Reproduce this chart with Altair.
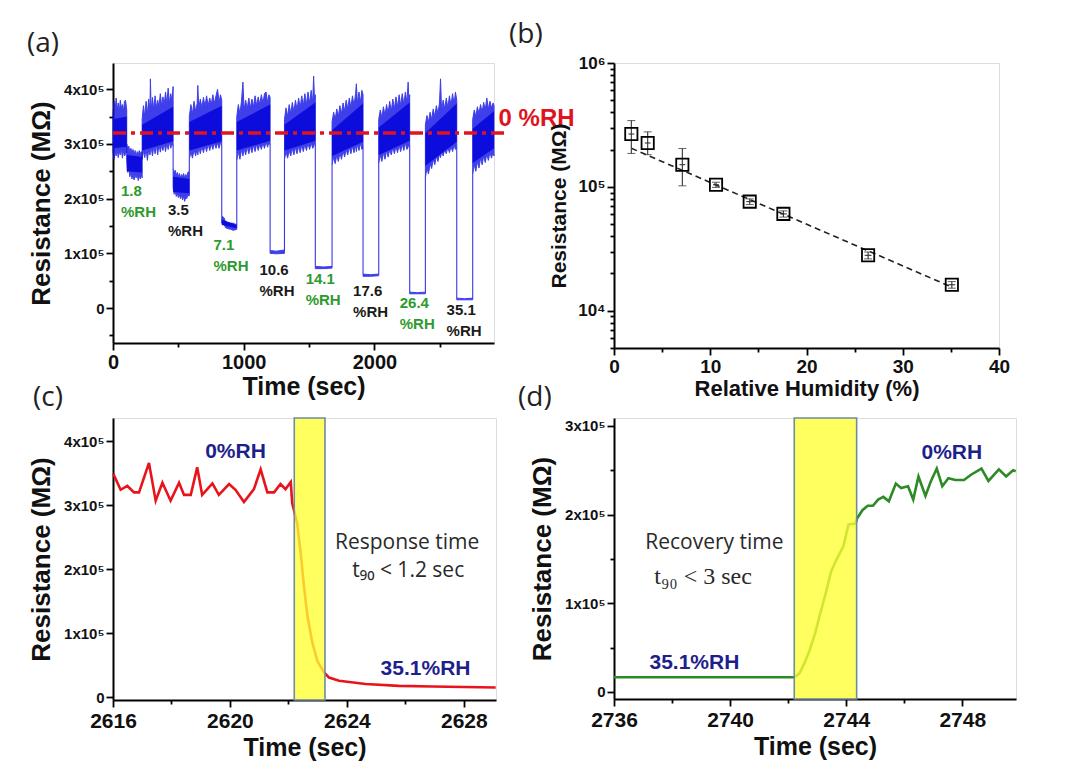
import altair as alt
import pandas as pd

SANS = "Liberation Sans"
BLUE = "#1414e6"
NAVY = "#1f1f8c"
GREEN_TXT = "#2e9a2e"

# ---------------- panel (a): resistance vs time (values in 1e5 MOhm) ----------------
# noisy trace, outer envelope: (time s, lower envelope, upper envelope)
A_SEGMENTS = [
    ([0, 8, 16, 24, 32, 40, 48, 56, 64, 72, 80, 88, 96, 105],
     [2.85, 2.72, 2.88, 2.78, 2.90, 2.75, 2.86, 2.80, 2.92, 2.74, 2.88, 2.78, 2.82, 2.85],
     [3.55, 3.78, 3.60, 3.84, 3.62, 3.75, 3.58, 3.80, 3.65, 3.72, 3.60, 3.78, 3.80, 3.62]),
    ([105, 113, 121, 129, 137, 145, 153, 161, 169, 177, 185, 193, 201, 209, 217, 223],
     [2.70, 2.48, 2.56, 2.40, 2.50, 2.36, 2.46, 2.34, 2.44, 2.38, 2.46, 2.33, 2.42, 2.36, 2.44, 2.38],
     [3.00, 2.90, 2.96, 2.84, 2.92, 2.82, 2.90, 2.80, 2.88, 2.78, 2.86, 2.80, 2.88, 2.82, 2.86, 2.85]),
    ([223, 233, 243, 253, 263, 273, 283, 286, 292, 302, 312, 322, 332, 342, 352, 362, 372, 382, 392, 402,
      412, 422, 432, 442, 452, 460],
     [2.72, 2.88, 2.75, 2.92, 2.70, 2.90, 2.80, 2.85, 2.95, 2.78, 2.96, 2.82, 2.98, 2.80, 3.00, 2.85, 2.98,
      2.88, 3.02, 2.86, 3.02, 2.90, 3.04, 2.92, 3.04, 2.95],
     [3.45, 3.70, 3.50, 3.78, 3.55, 3.82, 3.60, 4.19, 3.62, 3.85, 3.62, 3.88, 3.66, 3.80, 3.68, 3.92, 3.70,
      3.86, 3.72, 3.95, 3.74, 4.02, 3.75, 3.92, 3.78, 4.05]),
    ([460, 468, 476, 484, 492, 500, 508, 516, 524, 532, 540, 548, 556, 564, 572, 584],
     [2.20, 2.08, 2.14, 2.04, 2.10, 2.02, 2.08, 2.00, 2.06, 1.98, 2.04, 1.95, 2.02, 2.00, 2.06, 2.05],
     [2.55, 2.46, 2.52, 2.42, 2.48, 2.40, 2.46, 2.38, 2.44, 2.40, 2.46, 2.38, 2.44, 2.40, 2.48, 2.50]),
    ([584, 596, 608, 620, 632, 644, 649, 656, 668, 680, 692, 704, 716, 728, 740, 752, 764, 776, 788, 800,
      812, 822, 832],
     [2.72, 2.86, 2.74, 2.90, 2.78, 2.92, 2.80, 2.95, 2.82, 2.96, 2.84, 2.98, 2.86, 3.00, 2.88, 3.00, 2.90,
      3.02, 2.92, 3.02, 2.92, 3.04, 2.95],
     [3.50, 3.72, 3.55, 3.78, 3.60, 3.74, 4.07, 3.65, 3.82, 3.66, 3.85, 3.68, 3.88, 3.70, 3.84, 3.72, 3.90,
      3.74, 3.88, 4.00, 3.76, 3.90, 3.80]),
    ([832, 850, 860, 880, 900, 920, 947],
     [1.55, 1.55, 1.47, 1.45, 1.44, 1.42, 1.44],
     [1.68, 1.65, 1.58, 1.56, 1.55, 1.55, 1.52]),
    ([947, 959, 971, 983, 994, 1003, 1015, 1027, 1039, 1051, 1063, 1075, 1087, 1099, 1111, 1123, 1135, 1147,
      1159, 1171, 1183, 1193, 1202],
     [2.70, 2.86, 2.72, 2.90, 2.78, 2.92, 2.80, 2.95, 2.82, 2.96, 2.84, 2.98, 2.86, 3.00, 2.88, 3.00, 2.90,
      3.02, 2.92, 3.04, 2.94, 3.04, 2.98],
     [3.50, 3.72, 3.55, 3.78, 4.13, 3.62, 3.80, 3.64, 3.84, 3.66, 3.82, 3.68, 3.88, 3.70, 3.86, 3.72, 3.90,
      3.74, 3.92, 3.95, 3.76, 3.90, 3.85]),
    ([1202, 1250, 1312], [1.00, 0.99, 1.00], [1.05, 1.04, 1.06]),
    ([1312, 1324, 1336, 1348, 1360, 1372, 1384, 1396, 1408, 1420, 1432, 1444, 1456, 1468, 1480, 1492, 1504,
      1516, 1528, 1535, 1542, 1548],
     [2.72, 2.86, 2.74, 2.88, 2.78, 2.92, 2.80, 2.94, 2.82, 2.96, 2.84, 2.98, 2.86, 3.00, 2.88, 3.02, 2.90,
      3.02, 2.92, 2.95, 3.04, 2.95],
     [3.45, 3.66, 3.50, 3.72, 3.55, 3.76, 3.58, 3.80, 3.62, 3.84, 3.66, 3.88, 3.70, 3.92, 3.72, 3.95, 3.74,
      3.98, 3.76, 4.24, 3.80, 3.90]),
    ([1548, 1610, 1676], [0.72, 0.72, 0.73], [0.76, 0.75, 0.76]),
    ([1676, 1688, 1700, 1712, 1724, 1736, 1748, 1760, 1772, 1784, 1796, 1808, 1820, 1832, 1844, 1856, 1862,
      1870, 1882, 1894, 1904, 1913],
     [2.62, 2.76, 2.64, 2.80, 2.68, 2.84, 2.72, 2.88, 2.76, 2.90, 2.80, 2.94, 2.82, 2.96, 2.84, 2.98, 2.86,
      3.00, 2.88, 3.02, 2.90, 2.95],
     [3.40, 3.58, 3.45, 3.64, 3.50, 3.70, 3.55, 3.75, 3.60, 3.80, 3.64, 3.84, 3.66, 3.88, 3.70, 3.92, 4.10,
      3.74, 3.95, 3.76, 3.98, 3.90]),
    ([1913, 1970, 2033], [0.58, 0.58, 0.59], [0.62, 0.61, 0.62]),
    ([2033, 2045, 2057, 2069, 2081, 2093, 2105, 2117, 2129, 2141, 2153, 2165, 2177, 2189, 2201, 2213, 2225,
      2237, 2249, 2258, 2264, 2270],
     [2.65, 2.80, 2.68, 2.84, 2.72, 2.88, 2.76, 2.90, 2.80, 2.94, 2.82, 2.96, 2.84, 2.98, 2.86, 3.00, 2.88,
      3.02, 2.90, 2.94, 3.04, 2.95],
     [3.45, 3.62, 3.48, 3.68, 3.52, 3.72, 3.56, 3.78, 3.60, 3.82, 3.64, 3.86, 3.68, 3.90, 3.70, 3.92, 3.72,
      3.95, 3.75, 4.13, 3.78, 3.90]),
    ([2270, 2330, 2390], [0.26, 0.26, 0.26], [0.29, 0.28, 0.29]),
    ([2390, 2402, 2414, 2426, 2438, 2450, 2462, 2474, 2486, 2498, 2506, 2514, 2526, 2538, 2550, 2562, 2574,
      2586, 2598, 2610, 2620, 2630],
     [2.38, 2.56, 2.45, 2.64, 2.55, 2.72, 2.62, 2.78, 2.68, 2.82, 2.75, 2.86, 2.78, 2.90, 2.82, 2.94, 2.84,
      2.96, 2.86, 2.98, 2.90, 2.92],
     [3.35, 3.52, 3.40, 3.58, 3.45, 3.64, 3.50, 3.70, 3.55, 3.75, 4.19, 3.60, 3.80, 3.64, 3.84, 3.66, 3.88,
      3.70, 3.92, 3.72, 3.95, 3.80]),
    ([2630, 2690, 2752], [0.15, 0.15, 0.15], [0.18, 0.17, 0.18]),
    ([2752, 2764, 2776, 2788, 2800, 2812, 2824, 2836, 2848, 2860, 2872, 2884, 2896, 2908, 2915],
     [2.45, 2.62, 2.50, 2.68, 2.56, 2.74, 2.62, 2.78, 2.66, 2.82, 2.70, 2.85, 2.74, 2.86, 2.78],
     [3.45, 3.62, 3.50, 3.68, 3.55, 3.72, 3.58, 3.76, 3.62, 3.84, 3.64, 3.78, 3.66, 3.75, 3.70]),
]
# dense core of the noisy parts: (t start, t end, low start, low end, high start, high end)
A_CORE = [
    (0, 105, 2.92, 2.95, 3.45, 3.50),
    (105, 223, 2.50, 2.48, 2.80, 2.76),
    (223, 460, 2.88, 3.05, 3.35, 3.68),
    (460, 584, 2.12, 2.10, 2.40, 2.36),
    (584, 832, 2.88, 3.05, 3.40, 3.70),
    (832, 947, 1.52, 1.46, 1.62, 1.52),
    (947, 1202, 2.88, 3.06, 3.40, 3.72),
    (1312, 1548, 2.88, 3.06, 3.35, 3.76),
    (1676, 1913, 2.78, 3.04, 3.25, 3.74),
    (2033, 2270, 2.80, 3.06, 3.30, 3.76),
    (2390, 2630, 2.60, 3.04, 3.20, 3.74),
    (2752, 2915, 2.65, 2.92, 3.28, 3.60),
]
A_LABEL_TXT = ["1.8", "3.5", "7.1", "10.6", "14.1", "17.6", "26.4", "35.1"]
A_LABEL_T = [61, 421, 769, 1121, 1474, 1837, 2194, 2552]
A_LABEL_R = [2.13, 1.77, 1.13, 0.67, 0.51, 0.29, 0.08, -0.06]
A_LABEL_COLOR = [GREEN_TXT, "#1a1a1a"] * 4
A_RH0_LEVEL = 3.2
A_RH0_SPAN = [0, 3015]
A_RH0_TEXT = ("0 %RH", 2950, 3.46)
A_Y_TICKS = [-0.5, 0, 0.5, 1, 1.5, 2, 2.5, 3, 3.5, 4]
A_X_TICKS = [0, 500, 1000, 1500, 2000, 2500]

# ---------------- panel (b): resistance vs RH ----------------
B_RH = [1.8, 3.5, 7.1, 10.6, 14.1, 17.6, 26.4, 35.1]
B_RES = [2.67e5, 2.26e5, 1.51e5, 1.04e5, 7.6e4, 6.05e4, 2.8e4, 1.62e4]
B_ERR_LO = [1.86e5, 1.82e5, 1.02e5, 0.99e5, 7.2e4, 5.7e4, 2.62e4, 1.52e4]
B_ERR_HI = [3.43e5, 2.78e5, 2.04e5, 1.09e5, 8.0e4, 6.4e4, 2.98e4, 1.72e4]
B_XERR = [0.3, 0.3, 0.3, 0.3, 0.35, 0.35, 0.35, 0.35]
B_FIT_RH = [1.8, 35.1]
B_FIT_RES = [2.05e5, 1.55e4]

# ---------------- panel (c): response ----------------
C_T = [2616.01, 2616.26, 2616.49, 2616.72, 2616.89, 2617.23, 2617.46, 2617.69, 2617.97, 2618.26,
       2618.43, 2618.66, 2618.88, 2619.05, 2619.40, 2619.62, 2619.97, 2620.19, 2620.48, 2620.82,
       2621.05, 2621.28, 2621.51, 2621.73, 2621.90, 2622.08, 2622.13, 2622.30, 2622.42, 2622.53,
       2622.65, 2622.82, 2622.99, 2623.22, 2623.39, 2623.73, 2624.64, 2625.78, 2626.92, 2629.09]
C_R = [3.49, 3.24, 3.30, 3.20, 3.20, 3.66, 3.07, 3.35, 3.07, 3.35,
       3.16, 3.16, 3.59, 3.16, 3.34, 3.16, 3.33, 3.24, 3.05, 3.25,
       3.56, 3.20, 3.20, 3.33, 3.25, 3.36, 3.03, 2.72, 2.25, 1.74,
       1.27, 0.85, 0.57, 0.39, 0.31, 0.26, 0.21, 0.18, 0.17, 0.155]
C_BAND = [2622.2, 2623.25]
C_STATE_TXT = ["0%RH", "35.1%RH"]
C_STATE_T = [2620.19, 2626.69]
C_STATE_R = [3.83, 0.44]
C_NOTE_TXT = ["Response time", "t\u2089\u2080 < 1.2 sec"]
C_NOTE_T = [2626.06, 2626.1]
C_NOTE_R = [2.41, 1.97]

# ---------------- panel (d): recovery ----------------
D_T = [2736.0, 2742.21, 2742.39, 2742.57, 2742.75, 2742.93, 2743.11, 2743.30, 2743.48, 2743.66,
       2743.90, 2744.08, 2744.32, 2744.38, 2744.56, 2744.74, 2744.92, 2745.10, 2745.28, 2745.47,
       2745.71, 2745.89, 2746.13, 2746.31, 2746.49, 2746.73, 2746.91, 2747.12, 2747.31, 2747.52,
       2747.76, 2748.06, 2748.30, 2748.66, 2748.90, 2749.26, 2749.51, 2749.75, 2749.84]
D_R = [0.165, 0.165, 0.21, 0.33, 0.48, 0.66, 0.89, 1.12, 1.36, 1.49,
       1.64, 1.89, 1.90, 1.96, 2.05, 2.10, 2.10, 2.17, 2.20, 2.15,
       2.35, 2.30, 2.32, 2.17, 2.43, 2.21, 2.37, 2.52, 2.32, 2.41,
       2.39, 2.39, 2.45, 2.52, 2.38, 2.51, 2.43, 2.50, 2.49]
D_BAND = [2742.21, 2744.36]
D_STATE_TXT = ["35.1%RH", "0%RH"]
D_STATE_T = [2738.77, 2747.64]
D_STATE_R = [0.33, 2.70]
D_NOTE1 = ("Recovery time", 2739.46, 1.68)
D_NOTE2 = ("t\u2089\u2080 < 3 sec", 2739.07, 1.30)


# ---------------- helpers ----------------
def ax(**kw):
    base = dict(grid=False, labelFont=SANS, labelFontWeight="bold", labelColor="#111",
                titleFont=SANS, titleFontWeight="bold", titleColor="#111",
                domainColor="black", domainWidth=2, tickColor="black", tickWidth=1.8,
                labelOverlap=False, labelFlush=False)
    base.update(kw)
    return alt.Axis(**base)


def tick_size(test, major=7, minor=4):
    return {"condition": {"test": test, "value": major}, "value": minor}


E5_LABEL = ("abs(datum.value) < 1e-9 ? '0' : "
            "(abs(datum.value - round(datum.value)) < 1e-9 ? format(datum.value, 'd') + 'x10\u2075' : '')")


def panel_title(text, dx, offset=5):
    return alt.TitleParams(text=text, anchor="start", frame="group", dx=dx, offset=offset,
                           fontSize=28, font="Open Sans", fontWeight="normal", color="#222")


# ---------------- panel (a) ----------------
rows, trans, core_rows = [], [], []
for i, (ts, los, his) in enumerate(A_SEGMENTS):
    for t, lo, hi in zip(ts, los, his):
        rows.append({"seg": i, "t": t, "lo": lo, "hi": hi})
for (ta, la, ha), (tb, lb, hb) in zip(A_SEGMENTS[:-1], A_SEGMENTS[1:]):
    e1, e2 = (la[-1], ha[-1]), (lb[0], hb[0])
    lower, upper = (e1, e2) if e1[1] < e2[1] else (e2, e1)
    if upper[0] > lower[1]:
        trans.append({"t": ta[-1], "lo": lower[1], "hi": upper[0]})
for i, (t0, t1, l0, l1, h0, h1) in enumerate(A_CORE):
    core_rows += [{"seg": i, "t": t0, "lo": l0, "hi": h0}, {"seg": i, "t": t1, "lo": l1, "hi": h1}]
band_df = pd.DataFrame(rows)
trans_df = pd.DataFrame(trans)
core_df = pd.DataFrame(core_rows)

xa = alt.Scale(domain=[0, 2915], nice=False, zero=False)
ya = alt.Scale(domain=[-0.64, 4.48], nice=False, zero=False)
xa_axis = ax(title="Time (sec)", values=A_X_TICKS, format="d",
             labelExpr="datum.value % 1000 == 0 ? datum.label : ''",
             tickSize=tick_size("datum.value % 1000 == 0"), labelFontSize=20, titleFontSize=25,
             labelPadding=2, titlePadding=2)
ya_axis = ax(title="Resistance (M\u03a9)", values=A_Y_TICKS,
             labelExpr=E5_LABEL, tickSize=tick_size("abs(datum.value - round(datum.value)) < 1e-9"),
             labelFontSize=15, titleFontSize=26, titlePadding=9)
AX = alt.X("t:Q", scale=xa, axis=xa_axis)
AY = alt.Y("lo:Q", scale=ya, axis=ya_axis)

a_band = alt.Chart(band_df).mark_area(color=BLUE, stroke=BLUE, strokeWidth=1, opacity=0.82).encode(
    x=AX, y=AY, y2="hi:Q", detail="seg:N")
a_core = alt.Chart(core_df).mark_area(color="#0c0cdc", opacity=1).encode(
    x=AX, y=AY, y2="hi:Q", detail="seg:N")
a_trans = alt.Chart(trans_df).mark_rule(color=BLUE, strokeWidth=1.1, opacity=0.85).encode(
    x=AX, y=AY, y2="hi:Q")
a_rh0 = alt.Chart(pd.DataFrame({"t": [A_RH0_SPAN[0]], "t2": [A_RH0_SPAN[1]], "lo": [A_RH0_LEVEL]})).mark_rule(
    color="#e0141e", strokeWidth=3.5, strokeDash=[13, 5, 4, 5]).encode(x=AX, x2="t2:Q", y=AY)
a_rh0_txt = alt.Chart(pd.DataFrame({"t": [A_RH0_TEXT[1]], "lo": [A_RH0_TEXT[2]], "s": [A_RH0_TEXT[0]]})).mark_text(
    align="left", baseline="middle", font=SANS, fontWeight="bold", fontSize=24, color="#e0141e").encode(
    x=AX, y=AY, text="s:N")
lab_df = pd.DataFrame({"t": A_LABEL_T, "lo": A_LABEL_R,
                       "s": [v + "\n%RH" for v in A_LABEL_TXT], "c": A_LABEL_COLOR})
a_labels = alt.Chart(lab_df).mark_text(
    align="left", baseline="top", dy=-8, lineBreak="\n", lineHeight=21, font=SANS,
    fontWeight="bold", fontSize=15).encode(
    x=AX, y=AY, text="s:N", color=alt.Color("c:N", scale=None))

panel_a = alt.layer(a_band, a_core, a_trans, a_rh0, a_rh0_txt, a_labels).properties(
    width=381, height=280, title=panel_title("(a)", -86))

# ---------------- panel (b) ----------------
b_df = pd.DataFrame({"rh": B_RH, "res": B_RES, "lo": B_ERR_LO, "hi": B_ERR_HI,
                     "xl": [r - e for r, e in zip(B_RH, B_XERR)],
                     "xh": [r + e for r, e in zip(B_RH, B_XERR)]})
caps_df = pd.DataFrame({"rh": B_RH * 2, "res": B_ERR_LO + B_ERR_HI})
fit_df = pd.DataFrame({"rh": B_FIT_RH, "res": B_FIT_RES})
xb = alt.Scale(domain=[0, 40], nice=False, zero=False)
yb = alt.Scale(type="log", domain=[5000, 1e6], nice=False)
log_vals = [k * 10 ** e for e in (3, 4, 5) for k in range(1, 10) if 5000 <= k * 10 ** e] + [1e6]
b_fit = alt.Chart(fit_df).mark_line(color="#222", strokeWidth=1.6, strokeDash=[6, 4]).encode(
    x=alt.X("rh:Q", scale=xb, axis=ax(
        title="Relative Humidity (%)", values=list(range(0, 41, 5)), format="d",
        labelExpr="datum.value % 10 == 0 ? datum.label : ''",
        tickSize=tick_size("datum.value % 10 == 0"), labelFontSize=19, titleFontSize=22,
        labelPadding=2, titlePadding=2)),
    y=alt.Y("res:Q", scale=yb, axis=ax(
        title="Resistance (M\u03a9)", values=log_vals,
        labelExpr="datum.value == 10000 ? '10\u2074' : datum.value == 100000 ? '10\u2075' : datum.value == 1000000 ? '10\u2076' : ''",
        tickSize=tick_size("datum.value == 10000 || datum.value == 100000 || datum.value == 1000000"),
        labelFontSize=17, titleFontSize=21, titlePadding=8)),
)
b_err = alt.Chart(b_df).mark_rule(color="#333", strokeWidth=1.1).encode(x="rh:Q", y="lo:Q", y2="hi:Q")
b_xerr = alt.Chart(b_df).mark_rule(color="#333", strokeWidth=1.1).encode(x="xl:Q", x2="xh:Q", y="res:Q")
b_caps = alt.Chart(caps_df).mark_tick(orient="horizontal", size=8, thickness=1.1, color="#333").encode(
    x="rh:Q", y="res:Q")
b_pts = alt.Chart(b_df).mark_point(shape="square", size=150, filled=False, color="black",
                                   strokeWidth=1.8, opacity=1).encode(x="rh:Q", y="res:Q")
panel_b = alt.layer(b_fit, b_err, b_xerr, b_caps, b_pts).properties(
    width=385, height=285, title=panel_title("(b)", -105))


# ---------------- panels (c) and (d) ----------------
def transient_panel(ts, rs, band, x_dom, y_dom, x_vals, y_vals, line_color, height, width,
                    state_t, state_r, state_txt, notes, title):
    xs = alt.Scale(domain=x_dom, nice=False, zero=False)
    ys = alt.Scale(domain=y_dom, nice=False, zero=False)
    line = alt.Chart(pd.DataFrame({"t": ts, "r": rs})).mark_line(
        color=line_color, strokeWidth=2.6).encode(
        x=alt.X("t:Q", scale=xs, axis=ax(
            title="Time (sec)", values=x_vals, format="d",
            labelExpr=f"(datum.value - {x_vals[0]}) % 4 == 0 ? datum.label : ''",
            tickSize=tick_size(f"(datum.value - {x_vals[0]}) % 4 == 0"),
            labelFontSize=21, titleFontSize=25, labelPadding=3, titlePadding=4)),
        y=alt.Y("r:Q", scale=ys, axis=ax(
            title="Resistance (M\u03a9)", values=y_vals, labelExpr=E5_LABEL,
            tickSize=tick_size("abs(datum.value - round(datum.value)) < 1e-9"),
            labelFontSize=15, titleFontSize=26, titlePadding=9)),
    )
    rect = alt.Chart(pd.DataFrame({"t": [band[0]], "t2": [band[1]]})).mark_rect(
        fill="#ffff33", fillOpacity=0.78, stroke="#6f8ca0", strokeWidth=1.6).encode(
        x="t:Q", x2="t2:Q", y=alt.value(0), y2=alt.value(height))
    states = alt.Chart(pd.DataFrame({"t": state_t, "r": state_r, "s": state_txt})).mark_text(
        font=SANS, fontWeight="bold", fontSize=21, color=NAVY, baseline="middle").encode(
        x="t:Q", y="r:Q", text="s:N")
    layers = [line, rect, states]
    for (txt, t, r, font, size) in notes:
        layers.append(alt.Chart(pd.DataFrame({"t": [t], "r": [r], "s": [txt]})).mark_text(
            font=font, fontSize=size, color="#2a2a2a", baseline="middle").encode(
            x="t:Q", y="r:Q", text="s:N"))
    return alt.layer(*layers).properties(width=width, height=height, title=title)


panel_c = transient_panel(
    C_T, C_R, C_BAND, [2616, 2629.1], [-0.04, 4.36], list(range(2616, 2630, 2)),
    [0, 0.5, 1, 1.5, 2, 2.5, 3, 3.5, 4], "#e8141b", 282, 383,
    C_STATE_T, C_STATE_R, C_STATE_TXT,
    [(C_NOTE_TXT[0], C_NOTE_T[0], C_NOTE_R[0], "Open Sans", 21),
     (C_NOTE_TXT[1], C_NOTE_T[1], C_NOTE_R[1], "Open Sans", 21)],
    panel_title("(c)", -80))

panel_d = transient_panel(
    D_T, D_R, D_BAND, [2736, 2749.85], [-0.08, 3.09], list(range(2736, 2750, 2)),
    [0, 0.5, 1, 1.5, 2, 2.5, 3], "#2d8a25", 281, 402,
    D_STATE_T, D_STATE_R, D_STATE_TXT,
    [(D_NOTE1[0], D_NOTE1[1], D_NOTE1[2], "Open Sans", 21),
     (D_NOTE2[0], D_NOTE2[1], D_NOTE2[2], "Liberation Serif", 24)],
    panel_title("(d)", -96))

chart = alt.concat(panel_a, panel_b, panel_c, panel_d, columns=2, bounds="flush",
                   spacing={"row": 70, "column": 118}).properties(
    padding={"left": 18, "top": 12, "right": 10, "bottom": 10}
).configure_view(stroke="black", strokeWidth=2).configure(background="white")

chart.save("out.html", embed_options={"renderer": "svg", "actions": False})
